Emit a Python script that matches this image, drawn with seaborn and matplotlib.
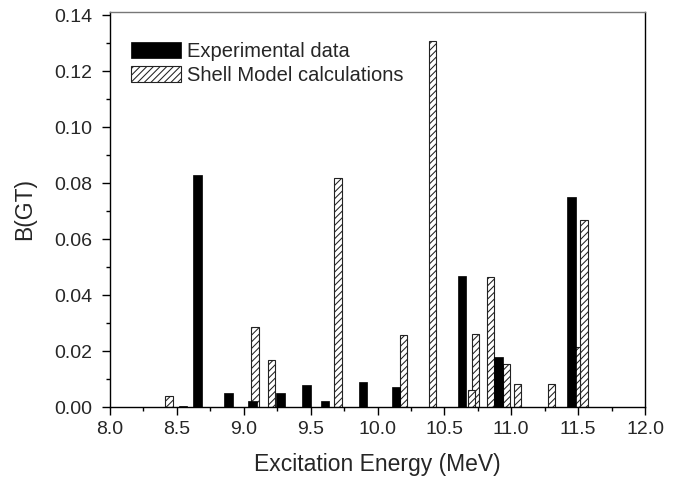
import matplotlib
matplotlib.use("Agg")
import matplotlib.pyplot as plt
from matplotlib.ticker import MultipleLocator, FormatStrFormatter
import seaborn as sns
import pandas as pd

# Data
exp_energy = [8.545, 8.655, 8.888, 9.067, 9.276, 9.468, 9.607, 9.890, 10.139, 10.632, 10.905, 11.452]
exp_bgt = [0.0005, 0.083, 0.005, 0.002, 0.005, 0.008, 0.002, 0.009, 0.0072, 0.047, 0.018, 0.075]

sm_energy = [8.440, 9.085, 9.206, 9.705, 10.196, 10.410, 10.704, 10.733, 10.846,
             10.964, 11.046, 11.303, 11.488, 11.543]
sm_bgt = [0.004, 0.0286, 0.0168, 0.082, 0.0256, 0.131, 0.006, 0.0261, 0.0466,
          0.0155, 0.0084, 0.0081, 0.0215, 0.067]

x_ticks = [8.0, 8.5, 9.0, 9.5, 10.0, 10.5, 11.0, 11.5, 12.0]
y_ticks = [0.00, 0.02, 0.04, 0.06, 0.08, 0.10, 0.12, 0.14]

sns.set_style("ticks")
plt.rcParams["font.family"] = ["Liberation Sans", "DejaVu Sans"]
plt.rcParams["hatch.linewidth"] = 0.75

fig = plt.figure(figsize=(6.93, 4.79), dpi=100)
ax = fig.add_axes([110 / 693, 1 - 407 / 479, 535 / 693, 395 / 479])

df_sm = pd.DataFrame({"E": sm_energy, "B": sm_bgt})
df_exp = pd.DataFrame({"E": exp_energy, "B": exp_bgt})

def set_widths(container, w):
    for p in container.patches:
        c = p.get_x() + p.get_width() / 2
        p.set_width(w)
        p.set_x(c - w / 2)

sns.barplot(data=df_sm, x="E", y="B", native_scale=True, orient="x",
            errorbar=None, color="white", edgecolor="#222222", linewidth=0.8,
            hatch="/////", label="Shell Model calculations", ax=ax, zorder=2)
sm_cont = ax.containers[-1]
set_widths(sm_cont, 0.055)
# shorter hatched bars drawn in front of taller neighbours
for p in sm_cont.patches:
    p.set_zorder(2 + (0.2 - p.get_height()))
    p.set_facecolor("white")

sns.barplot(data=df_exp, x="E", y="B", native_scale=True, orient="x",
            errorbar=None, color="black", edgecolor="black", linewidth=0.5,
            label="Experimental data", ax=ax, zorder=3)
exp_cont = ax.containers[-1]
set_widths(exp_cont, 0.064)
for p in exp_cont.patches:
    p.set_facecolor("black")
    p.set_zorder(3)

ax.set_xlim(8.0, 12.0)
ax.set_ylim(0.0, 0.1412)
ax.set_xticks(x_ticks)
ax.set_yticks(y_ticks)
ax.xaxis.set_major_formatter(FormatStrFormatter("%.1f"))
ax.yaxis.set_major_formatter(FormatStrFormatter("%.2f"))
ax.xaxis.set_minor_locator(MultipleLocator(0.25))
ax.yaxis.set_minor_locator(MultipleLocator(0.01))
ax.tick_params(axis="both", which="major", direction="out", length=6, width=1.0,
               labelsize=14, color="black")
ax.tick_params(axis="y", which="major", pad=7)
ax.tick_params(axis="x", which="major", pad=4)
ax.tick_params(axis="both", which="minor", direction="out", length=3, width=1.0,
               color="black")
ax.tick_params(top=False, right=False, which="both")

for side in ["left", "bottom", "right"]:
    ax.spines[side].set_visible(True)
    ax.spines[side].set_color("black")
    ax.spines[side].set_linewidth(1.0)
ax.spines["top"].set_visible(True)
ax.spines["top"].set_color("#777777")
ax.spines["top"].set_linewidth(1.0)

ax.set_xlabel("Excitation Energy (MeV)", fontsize=16.5, labelpad=11)
ax.set_ylabel("B(GT)", fontsize=16.5, labelpad=13)

handles, labels = ax.get_legend_handles_labels()
order = [labels.index("Experimental data"), labels.index("Shell Model calculations")]
ax.legend([handles[i] for i in order], [labels[i] for i in order],
          loc="upper left", bbox_to_anchor=(0.039, 0.925), frameon=False,
          fontsize=14.5, handlelength=2.5, handleheight=0.83, handletextpad=0.3,
          labelspacing=0.25, borderpad=0, borderaxespad=0)

fig.savefig("out.png", dpi=100)
